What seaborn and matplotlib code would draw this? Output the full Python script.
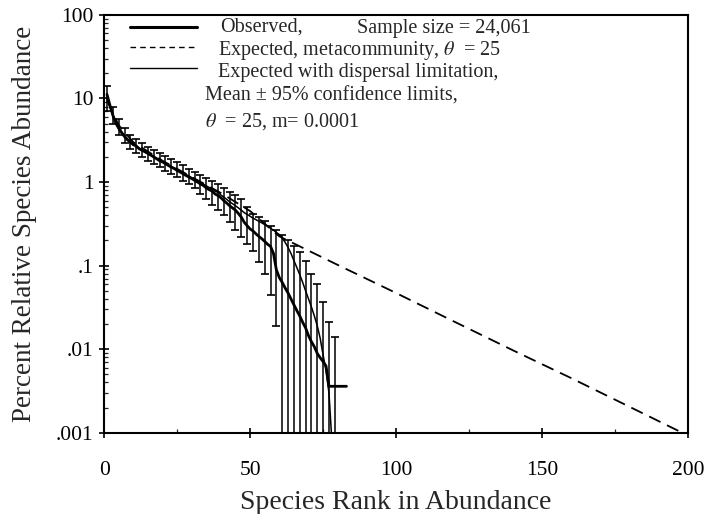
import numpy as np
import pandas as pd
import seaborn as sns
import matplotlib.pyplot as plt
from matplotlib.ticker import FixedLocator, FixedFormatter, LogLocator, NullFormatter, MultipleLocator

# observed percent abundance, ranks 1..83
obs_pct = [11.2, 8.3, 6.3, 5.1, 4.4, 3.9, 3.5, 3.2, 3.0, 2.8,
           2.7, 2.5, 2.4, 2.3, 2.2, 2.1, 2.0, 1.9, 1.8, 1.74,
           1.66, 1.58, 1.51, 1.45, 1.38, 1.32, 1.26, 1.20, 1.15, 1.10,
           1.05, 1.00, 0.95, 0.91, 0.85, 0.81, 0.78, 0.72, 0.69, 0.65,
           0.60, 0.56, 0.52, 0.49, 0.46, 0.42, 0.38, 0.33, 0.30, 0.275,
           0.26, 0.24, 0.224, 0.21, 0.195, 0.18, 0.17, 0.14, 0.089, 0.072,
           0.063, 0.054, 0.047, 0.040, 0.034, 0.029, 0.025, 0.021, 0.018, 0.0145,
           0.0123, 0.0107, 0.0089, 0.0079, 0.0071, 0.0063, 0.0036, 0.0036, 0.0036, 0.0036,
           0.0036, 0.0036, 0.0036]

# expected with dispersal limitation (mean), ranks 1..78
exp_pct = [10.0, 8.0, 6.4, 5.3, 4.6, 4.0, 3.6, 3.3, 3.05, 2.85,
           2.7, 2.55, 2.42, 2.3, 2.2, 2.1, 2.0, 1.92, 1.84, 1.76,
           1.68, 1.61, 1.54, 1.47, 1.41, 1.35, 1.29, 1.23, 1.18, 1.13,
           1.08, 1.03, 0.98, 0.94, 0.90, 0.86, 0.82, 0.78, 0.75, 0.70,
           0.66, 0.62, 0.58, 0.55, 0.52, 0.49, 0.46, 0.43, 0.41, 0.39,
           0.37, 0.355, 0.34, 0.325, 0.31, 0.295, 0.28, 0.265, 0.25, 0.235,
           0.215, 0.19, 0.165, 0.14, 0.115, 0.095, 0.078, 0.063, 0.05, 0.04,
           0.032, 0.025, 0.019, 0.0135, 0.0085, 0.0055, 0.003, 0.0008]

# 95% confidence limits, every other rank (0 = lower limit at zero)
bar_rank = list(range(1, 80, 2))
bar_lo = [7.0, 5.0, 3.7, 2.9, 2.5, 2.2, 1.98, 1.8, 1.63, 1.5,
          1.37, 1.25, 1.14, 1.04, 0.95, 0.86, 0.72, 0.62, 0.53, 0.46,
          0.40, 0.33, 0.27, 0.22, 0.18, 0.15, 0.11, 0.08, 0.045, 0.019,
          0, 0, 0, 0, 0, 0, 0, 0, 0, 0]
bar_hi = [14.0, 8.0, 5.7, 4.4, 3.7, 3.25, 2.9, 2.65, 2.42, 2.22,
          2.03, 1.87, 1.72, 1.58, 1.45, 1.33, 1.22, 1.12, 1.03, 0.95,
          0.86, 0.77, 0.70, 0.62, 0.50, 0.41, 0.38, 0.34, 0.30, 0.27,
          0.235, 0.20, 0.17, 0.145, 0.115, 0.08, 0.06, 0.037, 0.021, 0.014]

# expected, metacommunity
meta_rank = [1, 5, 10, 20, 30, 40, 50, 60, 80, 100, 120, 140, 160, 180, 198]
meta_pct = [9.5, 4.8, 3.0, 1.8, 1.15, 0.74, 0.45, 0.224, 0.102, 0.047, 0.0213, 0.0097, 0.0045, 0.00204, 0.001]

obs = pd.DataFrame({"rank": np.arange(1, len(obs_pct) + 1), "pct": obs_pct})
exp = pd.DataFrame({"rank": np.arange(1, len(exp_pct) + 1), "pct": exp_pct})
meta = pd.DataFrame({"rank": meta_rank, "pct": meta_pct})

sns.set_style("ticks")
plt.rcParams['font.family'] = ['Liberation Serif', 'DejaVu Serif']
plt.rcParams['mathtext.fontset'] = 'stix'

fig = plt.figure(figsize=(7.08, 5.14), dpi=100)
ax = fig.add_axes([0.147, 0.158, 0.825, 0.813])

sns.lineplot(data=meta, x="rank", y="pct", ax=ax, color="black", lw=1.3)
ax.lines[-1].set_dashes((7, 4))
sns.lineplot(data=exp, x="rank", y="pct", ax=ax, color="black", lw=1.1)
sns.lineplot(data=obs, x="rank", y="pct", ax=ax, color="black", lw=2.0)

hi = np.array(bar_hi)
lo = np.array(bar_lo)
lo_draw = np.where(lo > 0, lo, 1e-7)
ax.errorbar(bar_rank, hi, yerr=[hi - lo_draw, np.zeros_like(hi)], fmt="none",
            ecolor="black", elinewidth=1.1, capsize=3.0, capthick=1.2)

ax.set_yscale("log")
ax.set_xlim(0, 200)
ax.set_ylim(0.001, 100)

ax.yaxis.set_major_locator(FixedLocator([0.001, 0.01, 0.1, 1, 10, 100]))
ax.yaxis.set_major_formatter(FixedFormatter([".001", ".01", ".1", "1", "10", "100"]))
ax.yaxis.set_minor_locator(LogLocator(base=10, subs=np.arange(2, 10)))
ax.yaxis.set_minor_formatter(NullFormatter())
ax.xaxis.set_major_locator(MultipleLocator(50))
ax.xaxis.set_minor_locator(MultipleLocator(25))

ax.tick_params(axis="both", which="major", direction="inout", length=7, width=1.2,
               labelsize=15.5, colors="black")
ax.tick_params(axis="x", which="major", pad=17)
ax.tick_params(axis="y", which="major", pad=4)
ax.tick_params(axis="both", which="minor", direction="in", length=3, width=0.9)

for s in ax.spines.values():
    s.set_linewidth(1.5)
    s.set_color("black")

ax.set_xlabel("Species Rank in Abundance", fontsize=20, labelpad=7)
ax.set_ylabel("Percent Relative Species Abundance", fontsize=19.5, labelpad=14)

# hand-drawn key
tf = ax.transAxes
ax.plot([0.045, 0.159], [0.971, 0.971], transform=tf, color="black", lw=2.2)
ax.plot([0.045, 0.159], [0.923, 0.923], transform=tf, color="black", lw=1.0, dashes=(4, 3))
ax.plot([0.045, 0.159], [0.873, 0.873], transform=tf, color="black", lw=1.0)
fs = 14.5
ax.text(0.199, 0.972, "Observed,", transform=tf, fontsize=fs, va="center")
ax.text(0.433, 0.968, "Sample size = 24,061", transform=tf, fontsize=fs, va="center")
ax.text(0.195, 0.916, "Expected, metacommunity, $\\theta$  = 25", transform=tf, fontsize=fs, va="center")
ax.text(0.195, 0.863, "Expected with dispersal limitation,", transform=tf, fontsize=fs, va="center")
ax.text(0.173, 0.806, "Mean \u00b1 95% confidence limits,", transform=tf, fontsize=fs, va="center")
ax.text(0.173, 0.746, "$\\theta$  = 25, m= 0.0001", transform=tf, fontsize=fs, va="center")

fig.savefig("out.png", dpi=100)
